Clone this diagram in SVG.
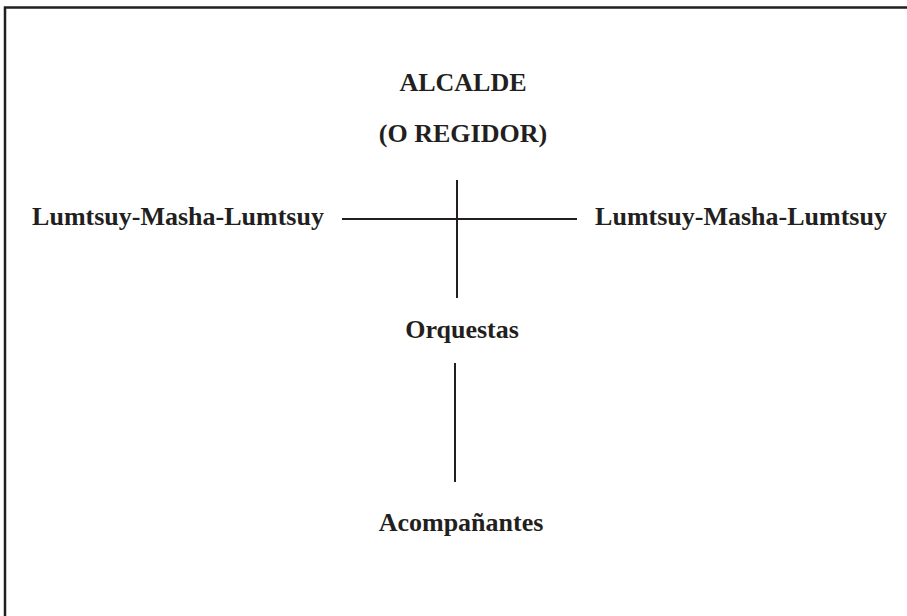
<svg xmlns="http://www.w3.org/2000/svg" width="907" height="616" viewBox="0 0 907 616">
<style>
.t{font-family:"Liberation Serif","Times New Roman",serif;font-weight:bold;font-size:26px;fill:#231f20;text-anchor:middle}
.c{stroke:#231f20;stroke-width:2;fill:none}
</style>
<rect x="0" y="0" width="907" height="616" fill="#fff"/>
<rect x="5" y="7.5" width="920" height="620" fill="none" stroke="#231f20" stroke-width="2.5"/>
<g id="alcalde"><text class="t" x="463" y="91">ALCALDE</text><text class="t" x="463" y="142">(O REGIDOR)</text></g>
<g id="lumtsuy-left"><text class="t" x="178" y="225">Lumtsuy-Masha-Lumtsuy</text></g>
<g id="lumtsuy-right"><text class="t" x="741" y="225">Lumtsuy-Masha-Lumtsuy</text></g>
<g id="orquestas"><text class="t" x="462" y="338">Orquestas</text></g>
<g id="acompanantes"><text class="t" x="461" y="531">Acompañantes</text></g>
<g id="connectors">
<line class="c" x1="342" y1="219" x2="577" y2="219"/>
<line class="c" x1="457" y1="180" x2="457" y2="298"/>
<line class="c" x1="455" y1="363" x2="455" y2="482"/>
</g>
</svg>
